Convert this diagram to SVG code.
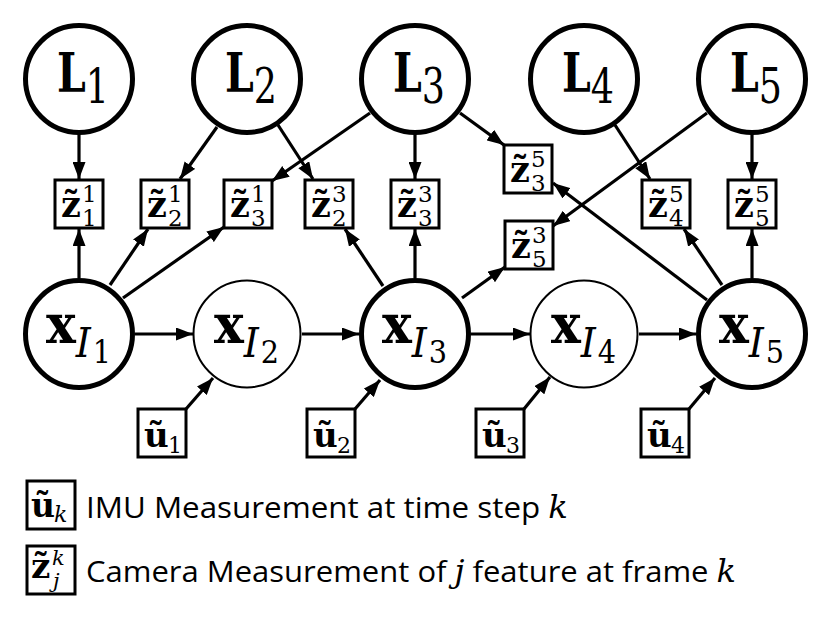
<svg xmlns="http://www.w3.org/2000/svg" width="831" height="619" viewBox="0 0 831 619">
<style>
.nd{fill:#fff;stroke:#000}
.thick{stroke-width:5}
.thin{stroke-width:2}
.box{fill:#fff;stroke:#000;stroke-width:3}
.edge{stroke:#000;stroke-width:3.2;fill:none;marker-end:url(#ah)}
.m{font-family:"DejaVu Serif","Liberation Serif",serif;fill:#000}
.b{font-weight:bold}
.i{font-style:italic}
.leg{font-family:"Open Sans","Noto Sans",sans-serif;font-size:30px;fill:#000}
</style>
<defs>
<marker id="ah" markerUnits="userSpaceOnUse" markerWidth="17" markerHeight="13" refX="17" refY="6.5" orient="auto"><path d="M0,0 L17,6.5 L0,13 z" fill="#000"/></marker>
</defs>
<rect width="831" height="619" fill="#fff"/>

<!-- Landmark nodes -->
<g id="L1"><circle class="nd thick" cx="79" cy="79" r="53.5"/><text class="m" x="57" y="92" textLength="52" lengthAdjust="spacingAndGlyphs"><tspan class="b" font-size="54">L</tspan><tspan font-size="48" dy="11">1</tspan></text></g>
<g id="L2"><circle class="nd thick" cx="247" cy="79" r="53.5"/><text class="m" x="225" y="92" textLength="52" lengthAdjust="spacingAndGlyphs"><tspan class="b" font-size="54">L</tspan><tspan font-size="48" dy="11">2</tspan></text></g>
<g id="L3"><circle class="nd thick" cx="415" cy="79" r="53.5"/><text class="m" x="393" y="92" textLength="52" lengthAdjust="spacingAndGlyphs"><tspan class="b" font-size="54">L</tspan><tspan font-size="48" dy="11">3</tspan></text></g>
<g id="L4"><circle class="nd thick" cx="584" cy="79" r="53.5"/><text class="m" x="562" y="92" textLength="52" lengthAdjust="spacingAndGlyphs"><tspan class="b" font-size="54">L</tspan><tspan font-size="48" dy="11">4</tspan></text></g>
<g id="L5"><circle class="nd thick" cx="752" cy="79" r="53.5"/><text class="m" x="730" y="92" textLength="52" lengthAdjust="spacingAndGlyphs"><tspan class="b" font-size="54">L</tspan><tspan font-size="48" dy="11">5</tspan></text></g>

<!-- State nodes -->
<g id="X1"><circle class="nd thick" cx="79" cy="334" r="53.5"/><text class="m" x="46" y="343" textLength="65" lengthAdjust="spacingAndGlyphs"><tspan class="b" font-size="54">x</tspan><tspan class="i" font-size="41" dy="14">I</tspan><tspan font-size="31" dy="6" dx="2">1</tspan></text></g>
<g id="X2"><circle class="nd thin" cx="247" cy="334" r="53.5"/><text class="m" x="214" y="343" textLength="65" lengthAdjust="spacingAndGlyphs"><tspan class="b" font-size="54">x</tspan><tspan class="i" font-size="41" dy="14">I</tspan><tspan font-size="31" dy="6" dx="2">2</tspan></text></g>
<g id="X3"><circle class="nd thick" cx="415" cy="334" r="53.5"/><text class="m" x="382" y="343" textLength="65" lengthAdjust="spacingAndGlyphs"><tspan class="b" font-size="54">x</tspan><tspan class="i" font-size="41" dy="14">I</tspan><tspan font-size="31" dy="6" dx="2">3</tspan></text></g>
<g id="X4"><circle class="nd thin" cx="584" cy="334" r="53.5"/><text class="m" x="551" y="343" textLength="65" lengthAdjust="spacingAndGlyphs"><tspan class="b" font-size="54">x</tspan><tspan class="i" font-size="41" dy="14">I</tspan><tspan font-size="31" dy="6" dx="2">4</tspan></text></g>
<g id="X5"><circle class="nd thick" cx="752" cy="334" r="53.5"/><text class="m" x="719" y="343" textLength="65" lengthAdjust="spacingAndGlyphs"><tspan class="b" font-size="54">x</tspan><tspan class="i" font-size="41" dy="14">I</tspan><tspan font-size="31" dy="6" dx="2">5</tspan></text></g>

<!-- Camera measurement nodes -->
<g id="z1_1"><rect class="box" x="55" y="180" width="48" height="48"/><text class="m" x="61" y="217"><tspan class="b" font-size="35">z&#x303;</tspan><tspan x="82" y="202" font-size="23">1</tspan><tspan x="82" y="226" font-size="23">1</tspan></text></g>
<g id="z2_1"><rect class="box" x="141" y="180" width="48" height="48"/><text class="m" x="147" y="217"><tspan class="b" font-size="35">z&#x303;</tspan><tspan x="168" y="202" font-size="23">1</tspan><tspan x="168" y="226" font-size="23">2</tspan></text></g>
<g id="z3_1"><rect class="box" x="224" y="180" width="48" height="48"/><text class="m" x="230" y="217"><tspan class="b" font-size="35">z&#x303;</tspan><tspan x="251" y="202" font-size="23">1</tspan><tspan x="251" y="226" font-size="23">3</tspan></text></g>
<g id="z2_3"><rect class="box" x="305" y="180" width="48" height="48"/><text class="m" x="311" y="217"><tspan class="b" font-size="35">z&#x303;</tspan><tspan x="332" y="202" font-size="23">3</tspan><tspan x="332" y="226" font-size="23">2</tspan></text></g>
<g id="z3_3"><rect class="box" x="391" y="180" width="48" height="48"/><text class="m" x="397" y="217"><tspan class="b" font-size="35">z&#x303;</tspan><tspan x="418" y="202" font-size="23">3</tspan><tspan x="418" y="226" font-size="23">3</tspan></text></g>
<g id="z3_5"><rect class="box" x="504" y="145" width="48" height="48"/><text class="m" x="510" y="182"><tspan class="b" font-size="35">z&#x303;</tspan><tspan x="531" y="167" font-size="23">5</tspan><tspan x="531" y="191" font-size="23">3</tspan></text></g>
<g id="z5_3"><rect class="box" x="505" y="221" width="48" height="48"/><text class="m" x="511" y="258"><tspan class="b" font-size="35">z&#x303;</tspan><tspan x="532" y="243" font-size="23">3</tspan><tspan x="532" y="267" font-size="23">5</tspan></text></g>
<g id="z4_5"><rect class="box" x="642" y="180" width="48" height="48"/><text class="m" x="648" y="217"><tspan class="b" font-size="35">z&#x303;</tspan><tspan x="669" y="202" font-size="23">5</tspan><tspan x="669" y="226" font-size="23">4</tspan></text></g>
<g id="z5_5"><rect class="box" x="728" y="180" width="48" height="48"/><text class="m" x="734" y="217"><tspan class="b" font-size="35">z&#x303;</tspan><tspan x="755" y="202" font-size="23">5</tspan><tspan x="755" y="226" font-size="23">5</tspan></text></g>

<!-- IMU measurement nodes -->
<g id="u1"><rect class="box" x="138" y="409" width="48" height="48"/><text class="m" x="144" y="447"><tspan class="b" font-size="34">&#x169;</tspan><tspan x="168" y="453" font-size="22">1</tspan></text></g>
<g id="u2"><rect class="box" x="307" y="409" width="48" height="48"/><text class="m" x="313" y="447"><tspan class="b" font-size="34">&#x169;</tspan><tspan x="337" y="453" font-size="22">2</tspan></text></g>
<g id="u3"><rect class="box" x="476" y="409" width="48" height="48"/><text class="m" x="482" y="447"><tspan class="b" font-size="34">&#x169;</tspan><tspan x="506" y="453" font-size="22">3</tspan></text></g>
<g id="u4"><rect class="box" x="641" y="409" width="48" height="48"/><text class="m" x="647" y="447"><tspan class="b" font-size="34">&#x169;</tspan><tspan x="671" y="453" font-size="22">4</tspan></text></g>

<!-- Connectors -->
<g id="connectors">
<line class="edge" x1="79" y1="133" x2="79" y2="179"/>
<line class="edge" x1="217" y1="127" x2="180" y2="179"/>
<line class="edge" x1="278" y1="125" x2="313" y2="179"/>
<line class="edge" x1="370" y1="113" x2="272" y2="181"/>
<line class="edge" x1="415" y1="133" x2="415" y2="179"/>
<line class="edge" x1="460" y1="113" x2="504" y2="145"/>
<line class="edge" x1="615" y1="125" x2="650" y2="179"/>
<line class="edge" x1="707" y1="113" x2="553" y2="226"/>
<line class="edge" x1="752" y1="133" x2="752" y2="179"/>
<line class="edge" x1="79" y1="278" x2="79" y2="229"/>
<line class="edge" x1="110" y1="285" x2="148" y2="229"/>
<line class="edge" x1="123" y1="298" x2="224" y2="227"/>
<line class="edge" x1="383" y1="286" x2="345" y2="229"/>
<line class="edge" x1="415" y1="278" x2="415" y2="229"/>
<line class="edge" x1="462" y1="298" x2="505" y2="267"/>
<line class="edge" x1="707" y1="300" x2="553" y2="183"/>
<line class="edge" x1="722" y1="285" x2="684" y2="229"/>
<line class="edge" x1="752" y1="278" x2="752" y2="229"/>
<line class="edge" x1="135" y1="334" x2="193" y2="334"/>
<line class="edge" x1="302" y1="334" x2="359" y2="334"/>
<line class="edge" x1="471" y1="334" x2="530" y2="334"/>
<line class="edge" x1="639" y1="334" x2="696" y2="334"/>
<line class="edge" x1="186" y1="409" x2="213" y2="378"/>
<line class="edge" x1="355" y1="409" x2="380" y2="380"/>
<line class="edge" x1="524" y1="409" x2="550" y2="377"/>
<line class="edge" x1="689" y1="409" x2="715" y2="378"/>
</g>

<!-- Legend -->
<g id="legend-imu"><rect class="box" x="27" y="481" width="48" height="48"/><text class="m" x="31" y="517"><tspan class="b" font-size="33">&#x169;</tspan><tspan class="i" x="54" y="522" font-size="22">k</tspan></text>
<text class="leg" x="86" y="518" textLength="482" lengthAdjust="spacingAndGlyphs">IMU Measurement at time step <tspan class="m i" font-size="31">k</tspan></text></g>
<g id="legend-cam"><rect class="box" x="27" y="546" width="48" height="48"/><text class="m" x="31" y="578"><tspan class="b" font-size="34">z&#x303;</tspan><tspan class="i" x="52" y="565" font-size="21">k</tspan><tspan class="i" x="53" y="588" font-size="21">j</tspan></text>
<text class="leg" x="86" y="582" textLength="650" lengthAdjust="spacingAndGlyphs">Camera Measurement of <tspan class="m i" font-size="31">j</tspan> feature at frame <tspan class="m i" font-size="31">k</tspan></text></g>
</svg>
